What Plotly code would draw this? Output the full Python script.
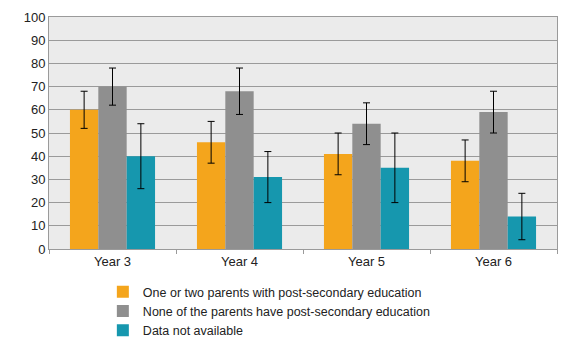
import plotly.graph_objects as go

categories = ["Year 3", "Year 4", "Year 5", "Year 6"]
series_names = [
    "One or two parents with post-secondary education",
    "None of the parents have post-secondary education",
    "Data not available",
]
values_one_two = [60, 46, 41, 38]
err_hi_one_two = [68, 55, 50, 47]
err_lo_one_two = [52, 37, 32, 29]
values_none = [70, 68, 54, 59]
err_hi_none = [78, 78, 63, 68]
err_lo_none = [62, 58, 45, 50]
values_na = [40, 31, 35, 14]
err_hi_na = [54, 42, 50, 24]
err_lo_na = [26, 20, 20, 4]
colors = ["#F4A51C", "#8F8F8F", "#1697AE"]

series = [
    (values_one_two, err_hi_one_two, err_lo_one_two),
    (values_none, err_hi_none, err_lo_none),
    (values_na, err_hi_na, err_lo_na),
]

fig = go.Figure()
for name, color, (vals, hi, lo) in zip(series_names, colors, series):
    fig.add_trace(go.Bar(
        x=categories, y=vals, name=name, marker=dict(color=color, line=dict(width=0)),
        error_y=dict(type="data", symmetric=False,
                     array=[h - v for h, v in zip(hi, vals)],
                     arrayminus=[v - l for v, l in zip(vals, lo)],
                     color="black", thickness=1, width=3.5),
    ))

fig.update_layout(
    width=567, height=340,
    margin=dict(l=49, r=10, t=17, b=91, autoexpand=False),
    paper_bgcolor="white", plot_bgcolor="#EBEBEB",
    barmode="group", bargap=0.33, bargroupgap=0,
    font=dict(family="Liberation Sans, Arial, sans-serif", size=13, color="#222222"),
    showlegend=True,
    legend=dict(orientation="v", x=0.106, xanchor="left", yref="container", y=0.185, yanchor="top",
                font=dict(size=12.5), bgcolor="rgba(0,0,0,0)", tracegroupgap=0,
                itemwidth=30),
)
fig.update_yaxes(range=[0, 100], dtick=10, showgrid=True, gridcolor="#9A9A9A", gridwidth=1,
                 showline=True, linecolor="#9A9A9A", linewidth=1, mirror=True,
                 ticks="", zeroline=False, fixedrange=True)
fig.update_xaxes(showline=True, linecolor="#9A9A9A", linewidth=1, mirror=True,
                 ticks="outside", tickson="boundaries", ticklen=4, tickcolor="#9A9A9A",
                 showgrid=False)

fig.write_html("out.html")
